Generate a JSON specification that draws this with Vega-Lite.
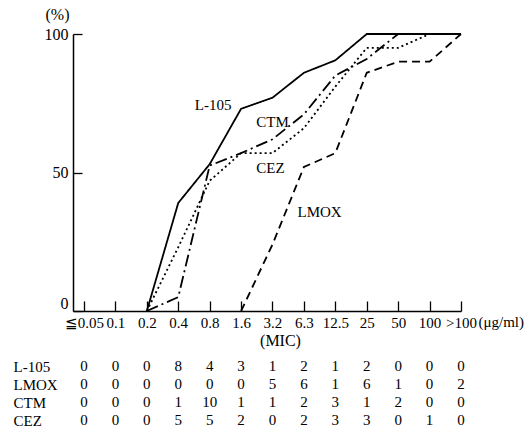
{
  "$schema": "https://vega.github.io/schema/vega-lite/v6.json",
  "background": "white",
  "padding": {"left": 13, "top": 6, "right": 0, "bottom": 0},
  "spacing": 2,
  "config": {
    "font": "Liberation Serif",
    "view": {"stroke": null},
    "axis": {"labelColor": "black", "titleColor": "black", "domainColor": "black", "tickColor": "black", "labelFont": "Liberation Serif", "titleFont": "Liberation Serif", "titleFontWeight": "normal", "grid": false},
    "text": {"font": "Liberation Serif", "color": "black"}
  },
  "datasets": {
    "curves": [
      {"drug": "L-105", "i": 2, "pct": 0}, {"drug": "L-105", "i": 3, "pct": 39}, {"drug": "L-105", "i": 4, "pct": 53}, {"drug": "L-105", "i": 5, "pct": 73}, {"drug": "L-105", "i": 6, "pct": 77}, {"drug": "L-105", "i": 7, "pct": 86}, {"drug": "L-105", "i": 8, "pct": 90.5}, {"drug": "L-105", "i": 9, "pct": 100}, {"drug": "L-105", "i": 10, "pct": 100}, {"drug": "L-105", "i": 11, "pct": 100}, {"drug": "L-105", "i": 12, "pct": 100},
      {"drug": "LMOX", "i": 5, "pct": 0}, {"drug": "LMOX", "i": 6, "pct": 24}, {"drug": "LMOX", "i": 7, "pct": 52}, {"drug": "LMOX", "i": 8, "pct": 57}, {"drug": "LMOX", "i": 9, "pct": 86}, {"drug": "LMOX", "i": 10, "pct": 90}, {"drug": "LMOX", "i": 11, "pct": 90}, {"drug": "LMOX", "i": 12, "pct": 100},
      {"drug": "CTM", "i": 2, "pct": 0}, {"drug": "CTM", "i": 3, "pct": 5}, {"drug": "CTM", "i": 4, "pct": 52.5}, {"drug": "CTM", "i": 5, "pct": 57}, {"drug": "CTM", "i": 6, "pct": 62}, {"drug": "CTM", "i": 7, "pct": 71}, {"drug": "CTM", "i": 8, "pct": 85}, {"drug": "CTM", "i": 9, "pct": 91}, {"drug": "CTM", "i": 10, "pct": 100}, {"drug": "CTM", "i": 11, "pct": 100}, {"drug": "CTM", "i": 12, "pct": 100},
      {"drug": "CEZ", "i": 2, "pct": 0}, {"drug": "CEZ", "i": 3, "pct": 23}, {"drug": "CEZ", "i": 4, "pct": 47}, {"drug": "CEZ", "i": 5, "pct": 57}, {"drug": "CEZ", "i": 6, "pct": 57}, {"drug": "CEZ", "i": 7, "pct": 66}, {"drug": "CEZ", "i": 8, "pct": 81}, {"drug": "CEZ", "i": 9, "pct": 95}, {"drug": "CEZ", "i": 10, "pct": 95}, {"drug": "CEZ", "i": 11, "pct": 100}, {"drug": "CEZ", "i": 12, "pct": 100}
    ],
    "table": [
      {"drug": "L-105", "i": 0, "n": 0}, {"drug": "L-105", "i": 1, "n": 0}, {"drug": "L-105", "i": 2, "n": 0}, {"drug": "L-105", "i": 3, "n": 8}, {"drug": "L-105", "i": 4, "n": 4}, {"drug": "L-105", "i": 5, "n": 3}, {"drug": "L-105", "i": 6, "n": 1}, {"drug": "L-105", "i": 7, "n": 2}, {"drug": "L-105", "i": 8, "n": 1}, {"drug": "L-105", "i": 9, "n": 2}, {"drug": "L-105", "i": 10, "n": 0}, {"drug": "L-105", "i": 11, "n": 0}, {"drug": "L-105", "i": 12, "n": 0},
      {"drug": "LMOX", "i": 0, "n": 0}, {"drug": "LMOX", "i": 1, "n": 0}, {"drug": "LMOX", "i": 2, "n": 0}, {"drug": "LMOX", "i": 3, "n": 0}, {"drug": "LMOX", "i": 4, "n": 0}, {"drug": "LMOX", "i": 5, "n": 0}, {"drug": "LMOX", "i": 6, "n": 5}, {"drug": "LMOX", "i": 7, "n": 6}, {"drug": "LMOX", "i": 8, "n": 1}, {"drug": "LMOX", "i": 9, "n": 6}, {"drug": "LMOX", "i": 10, "n": 1}, {"drug": "LMOX", "i": 11, "n": 0}, {"drug": "LMOX", "i": 12, "n": 2},
      {"drug": "CTM", "i": 0, "n": 0}, {"drug": "CTM", "i": 1, "n": 0}, {"drug": "CTM", "i": 2, "n": 0}, {"drug": "CTM", "i": 3, "n": 1}, {"drug": "CTM", "i": 4, "n": 10}, {"drug": "CTM", "i": 5, "n": 1}, {"drug": "CTM", "i": 6, "n": 1}, {"drug": "CTM", "i": 7, "n": 2}, {"drug": "CTM", "i": 8, "n": 3}, {"drug": "CTM", "i": 9, "n": 1}, {"drug": "CTM", "i": 10, "n": 2}, {"drug": "CTM", "i": 11, "n": 0}, {"drug": "CTM", "i": 12, "n": 0},
      {"drug": "CEZ", "i": 0, "n": 0}, {"drug": "CEZ", "i": 1, "n": 0}, {"drug": "CEZ", "i": 2, "n": 0}, {"drug": "CEZ", "i": 3, "n": 5}, {"drug": "CEZ", "i": 4, "n": 5}, {"drug": "CEZ", "i": 5, "n": 2}, {"drug": "CEZ", "i": 6, "n": 0}, {"drug": "CEZ", "i": 7, "n": 2}, {"drug": "CEZ", "i": 8, "n": 3}, {"drug": "CEZ", "i": 9, "n": 3}, {"drug": "CEZ", "i": 10, "n": 0}, {"drug": "CEZ", "i": 11, "n": 1}, {"drug": "CEZ", "i": 12, "n": 0}
    ]
  },
  "vconcat": [
    {
      "width": 388,
      "height": 277,
      "data": {"name": "curves"},
      "encoding": {
        "x": {"field": "i", "type": "quantitative", "scale": {"domain": [-0.35, 12], "nice": false, "zero": false},
          "axis": {"values": [0,1,2,3,4,5,6,7,8,9,10,11,12], "labelExpr": "['≦0.05','0.1','0.2','0.4','0.8','1.6','3.2','6.3','12.5','25','50','100','>100'][datum.value]", "tickSize": -10, "tickWidth": 1.3, "domainWidth": 1.5, "labelPadding": 14, "labelFontSize": 15, "labelFlush": false, "labelOverlap": false, "title": "(μg/ml)", "titleFontSize": 15, "titleX": 405, "titleY": 10, "titleAlign": "left", "titleBaseline": "middle"}},
        "y": {"field": "pct", "type": "quantitative", "scale": {"domain": [0, 100], "nice": false},
          "axis": {"values": [0, 50, 100], "tickSize": -9, "tickWidth": 1.3, "domainWidth": 1.5, "labelPadding": 14, "labelFontSize": 16, "labelFlush": false, "labelOverlap": false, "labelBaseline": {"condition": {"test": "datum.value == 0", "value": "bottom"}, "value": "middle"}, "title": "(%)", "titleAngle": 0, "titleX": -16, "titleY": -20, "titleAlign": "center", "titleBaseline": "middle", "titleFontSize": 16}}
      },
      "layer": [
        {
          "mark": {"type": "line", "color": "black", "strokeWidth": 1.8, "clip": false},
          "encoding": {
            "strokeDash": {"field": "drug", "type": "nominal", "scale": {"domain": ["L-105", "LMOX", "CTM", "CEZ"], "range": [[1, 0], [8, 5], [12, 4, 2, 4], [2, 3]]}, "legend": null}
          }
        },
        {"transform": [{"filter": "datum.drug == 'L-105' && datum.i == 5"}], "mark": {"type": "text", "fontSize": 15, "dx": -28, "dy": -4}, "encoding": {"text": {"field": "drug"}}},
        {"transform": [{"filter": "datum.drug == 'CTM' && datum.i == 6"}], "mark": {"type": "text", "fontSize": 15, "dx": 0, "dy": -17}, "encoding": {"text": {"field": "drug"}}},
        {"transform": [{"filter": "datum.drug == 'CEZ' && datum.i == 6"}], "mark": {"type": "text", "fontSize": 15, "dx": -2, "dy": 15}, "encoding": {"text": {"field": "drug"}}},
        {"transform": [{"filter": "datum.drug == 'LMOX' && datum.i == 6"}], "mark": {"type": "text", "fontSize": 15, "align": "left", "dx": 25, "dy": -33}, "encoding": {"text": {"field": "drug"}}}
      ]
    },
    {
      "width": 388,
      "height": 72,
      "data": {"name": "table"},
      "mark": {"type": "text", "fontSize": 15, "baseline": "middle"},
      "encoding": {
        "x": {"field": "i", "type": "quantitative", "scale": {"domain": [-0.35, 12], "nice": false, "zero": false},
          "axis": {"orient": "top", "domain": false, "ticks": false, "labels": false, "title": "(MIC)", "titleFontSize": 16, "titleX": 207, "titlePadding": 9}},
        "y": {"field": "drug", "type": "nominal", "sort": ["L-105", "LMOX", "CTM", "CEZ"], "axis": {"title": null, "domain": false, "ticks": false, "labelAlign": "left", "labelPadding": 60, "labelFontSize": 15}},
        "text": {"field": "n", "type": "quantitative"}
      }
    }
  ]
}
